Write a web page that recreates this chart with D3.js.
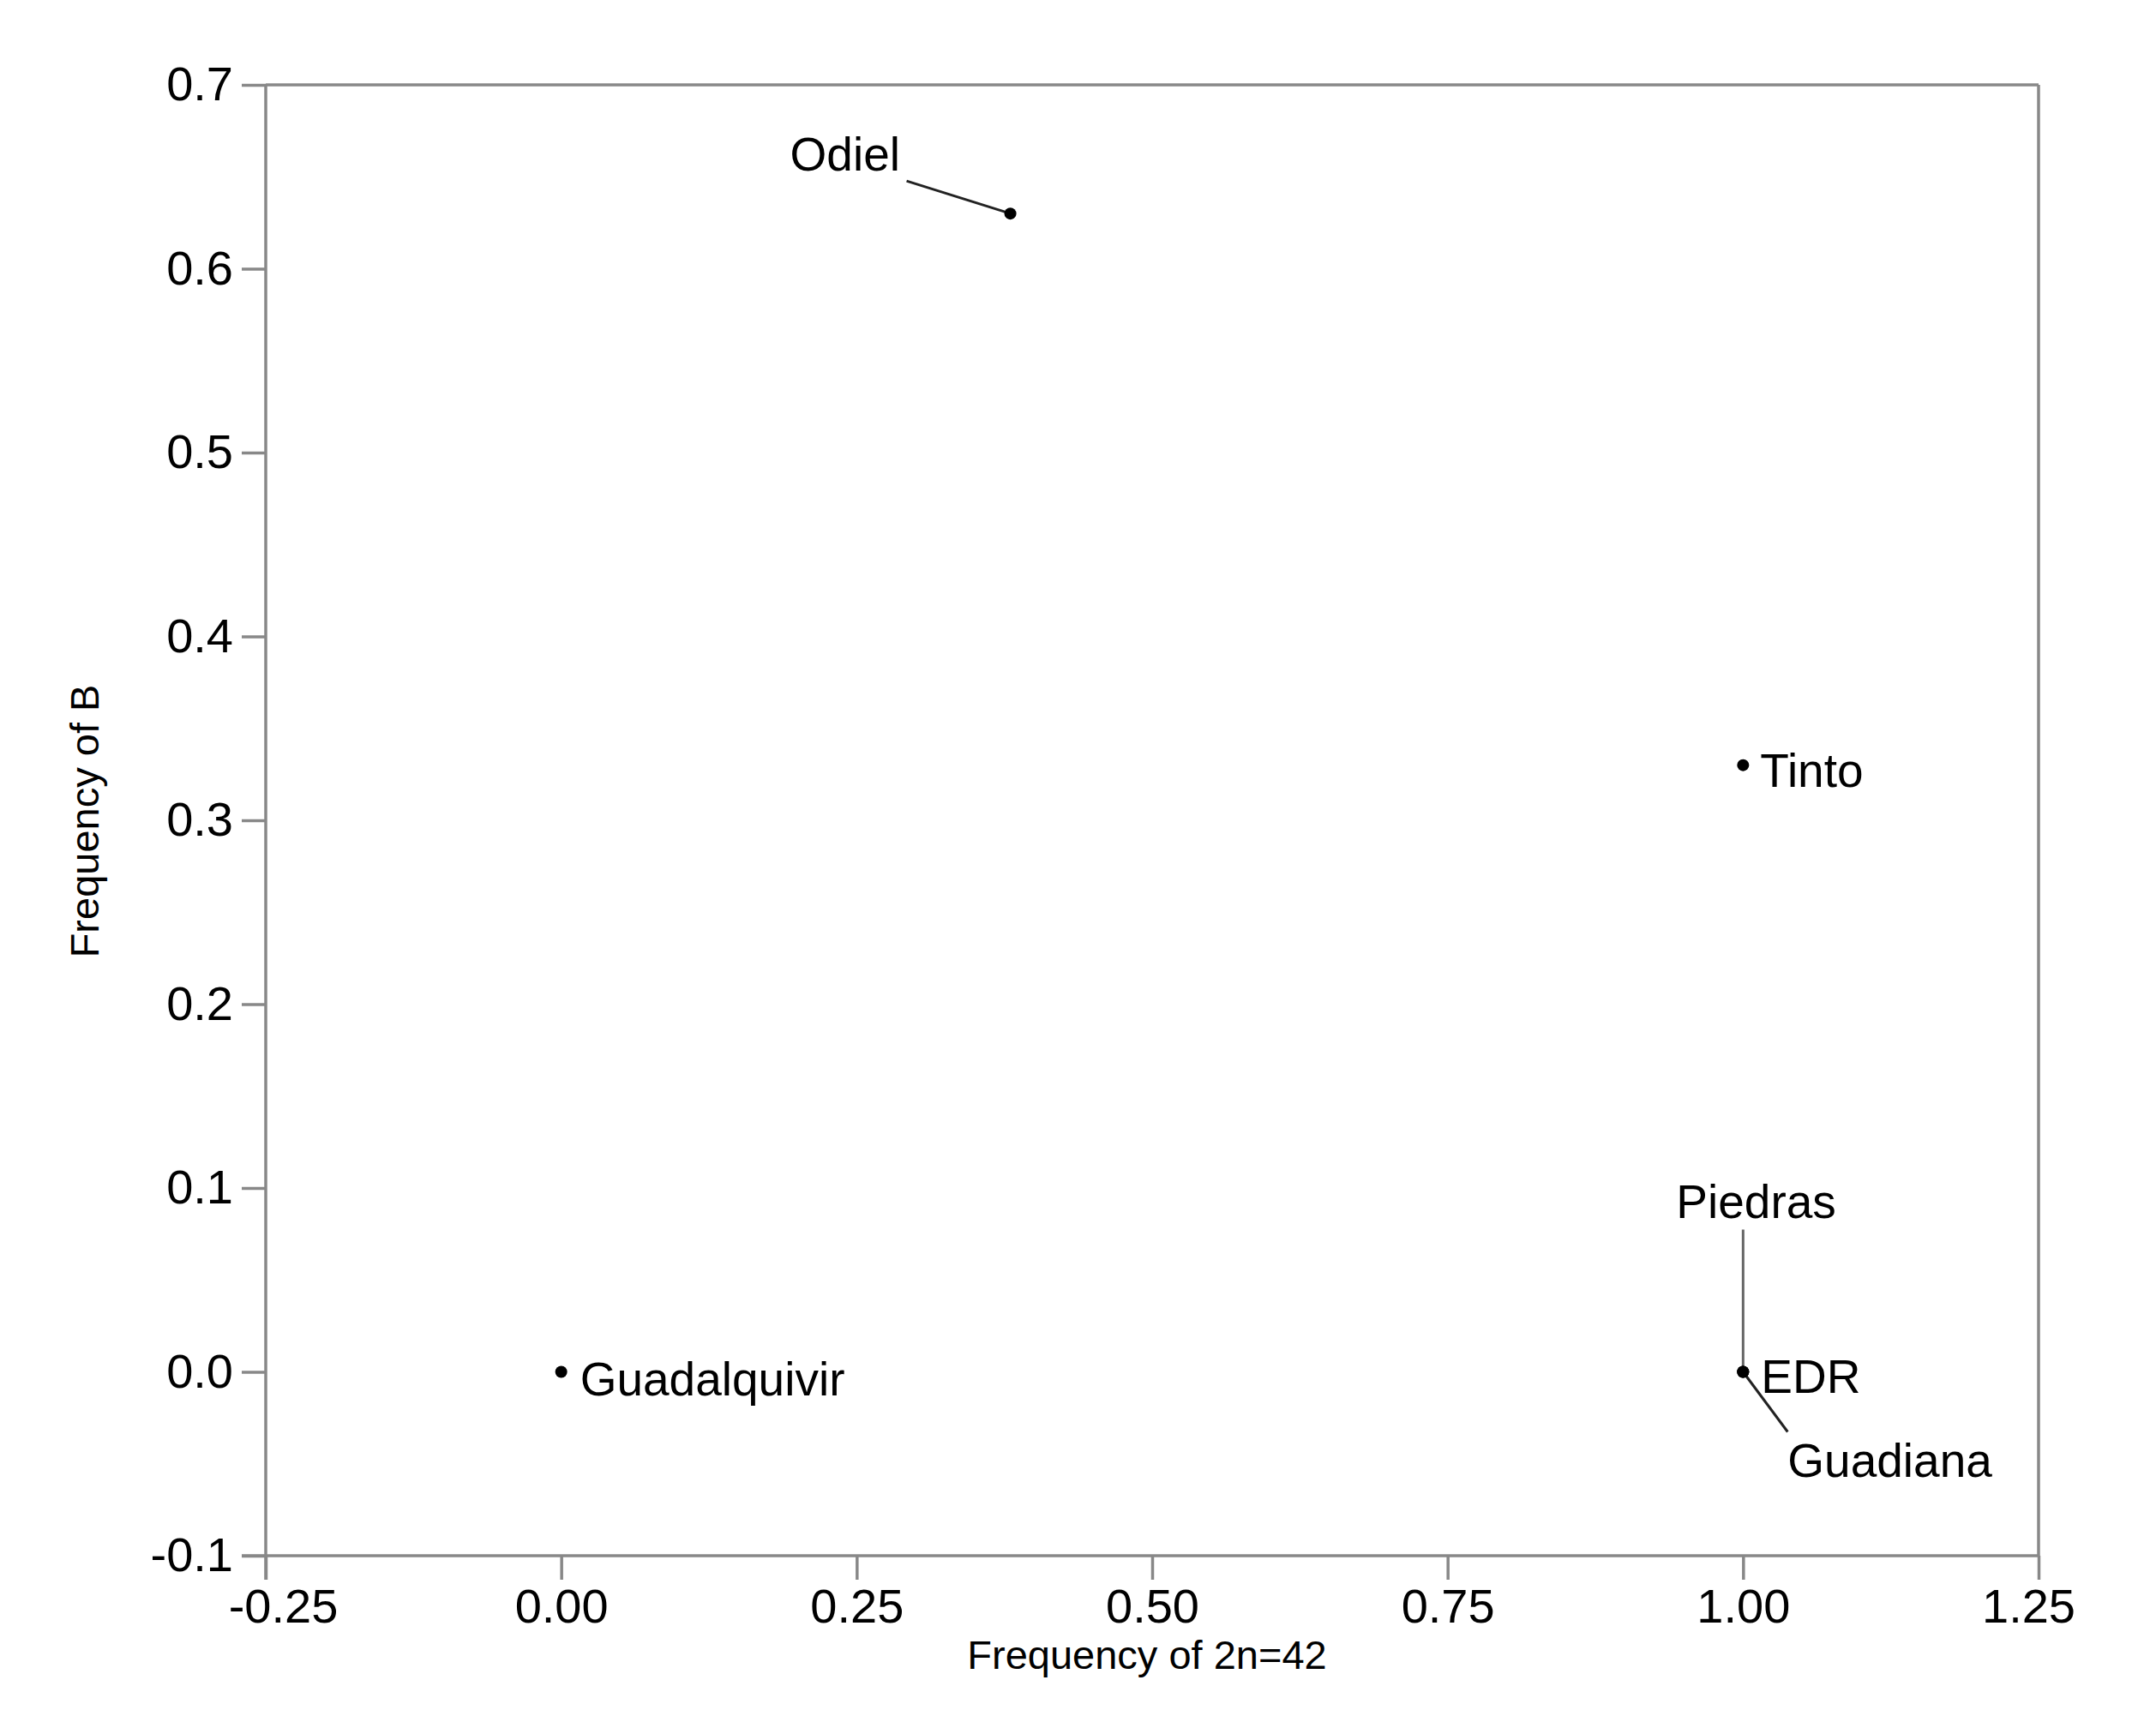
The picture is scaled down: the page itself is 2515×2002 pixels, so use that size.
<!DOCTYPE html>
<html>
<head>
<meta charset="utf-8">
<script src="https://cdn.jsdelivr.net/npm/d3@7"></script>
<style>
  html, body { margin: 0; padding: 0; background: #fff; }
  svg { display: block; }
  text { font-family: "Liberation Sans", Arial, Helvetica, sans-serif; fill: #000; }
</style>
</head>
<body>
<script>
// ---- data ----
const names = ["Odiel", "Tinto", "Guadalquivir", "Piedras", "EDR", "Guadiana"];
const freq2n42 = [0.38, 1.00, 0.00, 1.00, 1.00, 1.00];
const freqB    = [0.63, 0.33, 0.00, 0.00, 0.00, 0.00];
const xTicks = [-0.25, 0.00, 0.25, 0.50, 0.75, 1.00, 1.25];
const yTicks = [-0.1, 0.0, 0.1, 0.2, 0.3, 0.4, 0.5, 0.6, 0.7];
const xTitle = "Frequency of 2n=42";
const yTitle = "Frequency of B";

// label placement (pixel offsets from the point: text anchor, optional leader end)
const labelDx = [-257, 20, 22, -78, 21, 52];
const labelDy = [-50, 25, 27, -180, 24, 122];
const leaderDx = [-121, null, null, 0, null, 52];
const leaderDy = [-38, null, null, -166, null, 70];

// ---- layout ----
const W = 2515, H = 2002;
const m = { left: 310, top: 99, right: 2378, bottom: 1815 };
const axisColor = "#888";
const axisW = 3.5;
const tickLen = 28;
const tickFont = 56;
const labelFont = 55;

const svg = d3.select("body").append("svg").attr("width", W).attr("height", H);

const x = d3.scaleLinear().domain([-0.25, 1.25]).range([m.left, m.right]);
const y = d3.scaleLinear().domain([-0.1, 0.7]).range([m.bottom, m.top]);

// frame (top and right)
svg.append("line").attr("x1", m.left).attr("x2", m.right).attr("y1", m.top).attr("y2", m.top)
  .attr("stroke", axisColor).attr("stroke-width", axisW);
svg.append("line").attr("x1", m.right).attr("x2", m.right).attr("y1", m.top).attr("y2", m.bottom)
  .attr("stroke", axisColor).attr("stroke-width", axisW);

// x axis
const gx = svg.append("g").attr("transform", `translate(0,${m.bottom})`)
  .call(d3.axisBottom(x).tickValues(xTicks).tickSize(tickLen).tickSizeOuter(0).tickPadding(10));
// y axis
const gy = svg.append("g").attr("transform", `translate(${m.left},0)`)
  .call(d3.axisLeft(y).tickValues(yTicks).tickSize(tickLen).tickSizeOuter(0).tickPadding(10));

[gx, gy].forEach(g => {
  g.select(".domain").attr("stroke", axisColor).attr("stroke-width", axisW);
  g.selectAll(".tick line").attr("stroke", axisColor).attr("stroke-width", axisW);
  g.selectAll(".tick text").attr("fill", "#000")
    .style("font-family", '"Liberation Sans", Arial, sans-serif')
    .style("font-size", tickFont + "px");
});
const xLast = xTicks.length - 1;
gx.selectAll(".tick text").text(d => d3.format(".2f")(d).replace("−", "-"))
  .attr("dx", (d, i) => i === 0 ? 20 : (i === xLast ? -12 : 0));
gy.selectAll(".tick text").text(d => d3.format(".1f")(d).replace("−", "-"));
// extend y-axis to bottom tick and x-axis to left tick
gy.select(".domain").attr("d", `M0,${m.bottom + tickLen}V${m.top}`);
gx.select(".domain").attr("d", `M${m.left - tickLen},0H${m.right}`);

// axis titles
svg.append("text").attr("x", (m.left + m.right) / 2 - 6).attr("y", 1947)
  .attr("text-anchor", "middle").style("font-size", "47px").text(xTitle);
svg.append("text").attr("transform", `translate(115,${958}) rotate(-90)`)
  .attr("text-anchor", "middle").style("font-size", "47px").text(yTitle);

// data rows
const rows = names.map((n, i) => ({
  name: n, x: freq2n42[i], y: freqB[i],
  dx: labelDx[i], dy: labelDy[i], lx: leaderDx[i], ly: leaderDy[i]
}));

// leader lines
svg.append("g").selectAll("line").data(rows.filter(d => d.lx !== null)).join("line")
  .attr("x1", d => x(d.x)).attr("y1", d => y(d.y))
  .attr("x2", d => x(d.x) + d.lx).attr("y2", d => y(d.y) + d.ly)
  .attr("stroke", d => d.name === "Piedras" ? "#666" : "#222")
  .attr("stroke-width", 3);

// points
svg.append("g").selectAll("circle").data(rows).join("circle")
  .attr("cx", d => x(d.x)).attr("cy", d => y(d.y)).attr("r", 7).attr("fill", "#000");

// labels
svg.append("g").selectAll("text").data(rows).join("text")
  .attr("x", d => x(d.x) + d.dx).attr("y", d => y(d.y) + d.dy)
  .style("font-size", labelFont + "px").text(d => d.name);
</script>
</body>
</html>
